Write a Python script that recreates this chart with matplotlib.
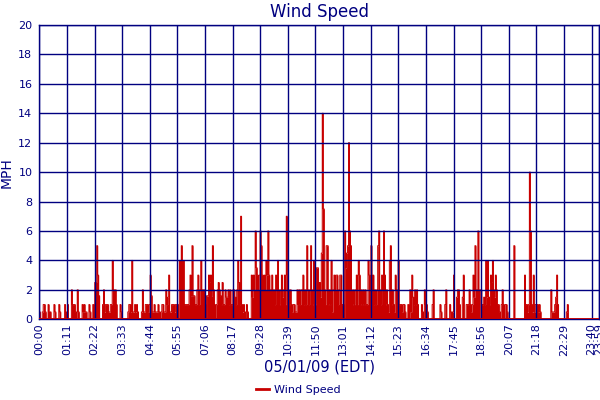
import numpy as np
import matplotlib
matplotlib.use('Agg')
import matplotlib.pyplot as plt

# wind speed (mph), one value every 2.5 minutes, one list per hour
hour_00 = [0.5, 0, 0, 0.5, 1, 1, 0.5, 0, 0, 1, 0, 0.5, 0, 0, 0, 1, 0.5, 0, 0, 0, 1, 0.5, 0, 0]
hour_01 = [0, 0, 1, 0, 0.5, 1, 0, 0, 0, 2, 1, 1, 1, 0.5, 0, 2, 0.5, 0, 0, 0, 1, 0.5, 1, 0.5]
hour_02 = [0.5, 0, 0, 1, 0.5, 0, 0, 1, 0, 2.5, 2.5, 5, 3, 1.6, 0, 0, 0, 1, 2, 0.5, 1, 1, 1, 0.5]
hour_03 = [0.5, 1, 1, 4, 2, 2, 2, 1, 0, 0, 0, 1, 0.5, 0, 0, 0, 0, 0, 0, 0.5, 1, 1, 0.5, 4]
hour_04 = [0.5, 0.5, 1, 0.5, 1, 0.5, 0, 0, 0, 0.5, 2, 0.5, 0.5, 1, 1, 1, 0.5, 1, 3, 1.6, 0.5, 0.5, 1, 0.5]
hour_05 = [0.5, 0.5, 1, 0.5, 0, 0.5, 1, 1, 0.5, 0.5, 2, 1, 1.5, 3, 0.5, 0.5, 1, 1, 1, 0.5, 1, 1, 1, 0]
hour_06 = [4, 2, 5, 2, 4, 1, 1, 1, 1, 1, 2, 3, 1.6, 5, 1.6, 1.6, 1, 1, 2, 3, 1, 2, 4, 2]
hour_07 = [2, 2, 1, 0, 1.6, 1.6, 3, 2.5, 3, 1.6, 5, 2, 1, 0, 1, 2, 2.5, 2, 1.6, 1, 2.5, 1, 1, 2]
hour_08 = [1.5, 1.5, 2, 1, 2, 1, 1, 2, 2, 1.5, 1, 2, 4, 2.5, 1, 7, 1, 0.5, 1, 0.5, 0, 1, 0.5, 0]
hour_09 = [0, 0, 3, 1.5, 3, 2, 6, 3.5, 3, 2, 3, 6, 5, 3, 2, 3, 2, 4, 3, 6, 3, 2, 2, 3]
hour_10 = [2, 2, 1, 3, 2, 4, 2, 1, 2, 3, 1.5, 2, 3, 1, 7, 3, 2, 1, 2, 1, 0.5, 1, 1, 0.5]
hour_11 = [0.5, 2, 1, 2, 1, 2, 2, 3, 1, 2, 1, 5, 2, 1, 2, 5, 2, 1, 4, 2, 1, 3.5, 3.5, 2.5]
hour_12 = [2.5, 1.5, 4.5, 14, 7.5, 2, 1, 5, 5, 1, 2, 1, 4, 0.5, 2, 3, 2, 3, 3, 1, 2, 3, 3, 1]
hour_13 = [1, 0, 6, 3.5, 4.5, 5, 12, 6, 5, 2, 1, 2, 1, 2, 3, 1, 4, 3, 1, 2, 1, 2, 1, 2]
hour_14 = [1, 1, 4, 3, 2, 5, 2, 3, 1, 2, 1, 2, 5, 6, 2, 1, 3, 2, 6, 3, 1, 2, 1, 0.5]
hour_15 = [4, 5, 1, 2, 1, 0.5, 3, 2, 1, 4, 1, 1, 1, 0.5, 1, 1, 0.5, 0, 0, 1, 0, 2, 0.5, 3]
hour_16 = [1.5, 1, 2, 1, 2, 1, 0, 0, 0, 1, 0.5, 0, 2, 1, 1, 0.5, 0, 0, 0, 0, 1, 2, 0, 0]
hour_17 = [0, 0, 0, 0, 1, 0.5, 0, 0, 0, 1, 2, 0, 0, 0, 1, 0.5, 0, 0.5, 3, 0, 0, 1.5, 2, 2]
hour_18 = [1, 0, 0, 1.5, 3, 0, 0, 1, 1, 1, 2, 1, 0.5, 1, 3, 1.5, 5, 2, 2, 6, 0, 2, 2, 1]
hour_19 = [1, 1.5, 1, 4, 1.5, 4, 1.5, 1, 3, 2.5, 4, 2, 1.5, 3, 2, 1, 1, 0.5, 0, 1, 2, 1, 0, 1]
hour_20 = [1, 0.5, 0, 0, 0, 0, 0, 0, 5, 0, 0, 0, 0, 0, 0, 0, 0, 0, 0, 3, 1, 1, 0.5, 1]
hour_21 = [10, 6, 1, 0.5, 3, 0.5, 1, 1, 1, 0.5, 1, 0.5, 0, 0, 0, 0, 0, 0, 0, 0, 0, 0, 2, 0.5]
hour_22 = [0.5, 0.5, 1, 1.5, 3, 1, 0, 0, 0, 0, 0, 0, 0, 0, 0.5, 1, 0, 0, 0, 0, 0, 0, 0, 0]
hour_23 = [0, 0, 0, 0, 0, 0, 0, 0, 0, 0, 0, 0, 0, 0, 0, 0, 0, 0, 0, 0, 0, 0, 0, 0]

tick_labels = ['00:00', '01:11', '02:22', '03:33', '04:44', '05:55', '07:06',
               '08:17', '09:28', '10:39', '11:50', '13:01', '14:12', '15:23',
               '16:34', '17:45', '18:56', '20:07', '21:18', '22:29', '23:40', '23:59']
y_ticks = [0, 2, 4, 6, 8, 10, 12, 14, 16, 18, 20]

NAVY = '#000080'
RED = '#c80000'

hours = [hour_00, hour_01, hour_02, hour_03, hour_04, hour_05, hour_06, hour_07,
         hour_08, hour_09, hour_10, hour_11, hour_12, hour_13, hour_14, hour_15,
         hour_16, hour_17, hour_18, hour_19, hour_20, hour_21, hour_22, hour_23]
speed = np.array([v for h in hours for v in h], dtype=float)
step = 60.0 / len(hour_00)
t = np.arange(len(speed) + 1) * step
vals = np.append(speed, speed[-1])

tick_pos = [int(s[:2]) * 60 + int(s[3:]) for s in tick_labels]

fig = plt.figure(figsize=(6, 4), dpi=100)
ax = fig.add_axes([0.0655, 0.2018, 0.9328, 0.7357])

ax.fill_between(t, vals, step='post', color=RED, lw=0, zorder=1)
ax.step(t, vals, where='post', color=RED, lw=0.7, zorder=1.5)
ax.plot([0, 1440], [0, 0], color=RED, lw=2, zorder=3)

ax.set_xlim(0, 1439)
ax.set_ylim(0, 20)
ax.set_xticks(tick_pos)
ax.set_xticklabels(tick_labels, rotation=90)
ax.set_yticks(y_ticks)
ax.tick_params(axis='both', colors=NAVY, labelsize=8, length=0)
ax.tick_params(axis='x', pad=3)
ax.tick_params(axis='y', pad=5)
ax.set_axisbelow(False)
ax.grid(True, color=NAVY, lw=1)
for s in ax.spines.values():
    s.set_color(NAVY)
    s.set_linewidth(1)

ax.set_title('Wind Speed', color=NAVY, fontsize=12, pad=6)
ax.set_ylabel('MPH', color=NAVY, fontsize=10, labelpad=3)
ax.set_xlabel('05/01/09 (EDT)', color=NAVY, fontsize=10.5, labelpad=3)

h = [plt.Line2D([], [], color=RED, lw=2)]
fig.legend(h, ['Wind Speed'], loc='center', bbox_to_anchor=(298 / 600, 1 - 390 / 400),
           frameon=False, fontsize=8, handlelength=1.2, handletextpad=0.4,
           labelcolor=NAVY)

fig.savefig('out.png', dpi=100)
